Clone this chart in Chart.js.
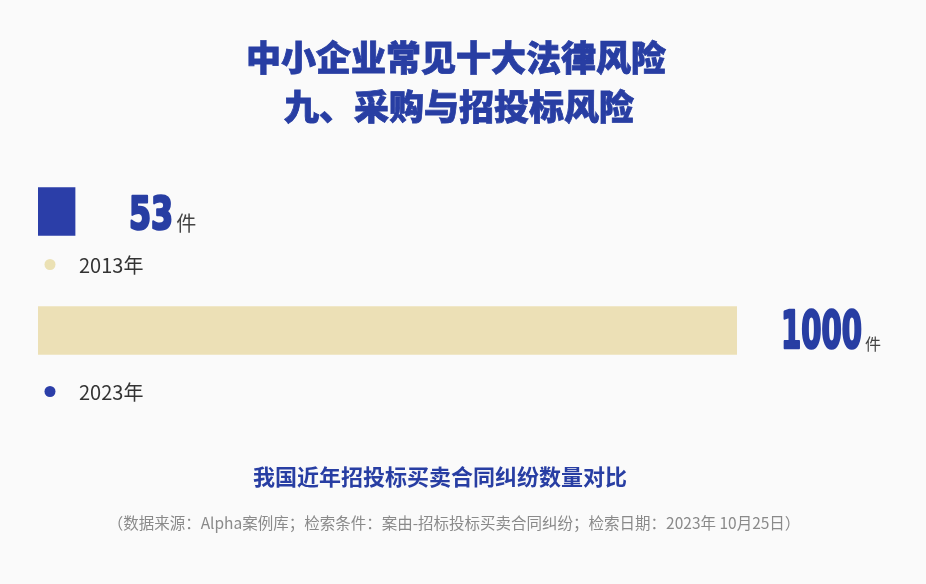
<!DOCTYPE html>
<html><head><meta charset="utf-8">
<script src="https://cdn.jsdelivr.net/npm/chart.js@4.4.0/dist/chart.umd.min.js"></script>
<style>
html,body{margin:0;padding:0;background:#fafafa;}
#wrap{position:relative;width:926px;height:584px;}
canvas{display:block;}
</style></head>
<body><div id="wrap"><canvas id="c" width="926" height="584"></canvas></div>
<script>
const categories = ['2013年', '2023年'];
const values = [53, 1000];
const unitLabel = '件';
const titleLines = ['中小企业常见十大法律风险', '九、采购与招投标风险'];
const subtitle = '我国近年招投标买卖合同纠纷数量对比';
const sourceNote = '（数据来源：Alpha案例库；检索条件：案由-招标投标买卖合同纠纷；检索日期：2023年 10月25日）';
const barColors = ['#2b3ea8', '#ece0b6'];
const dotColors = ['#ebe1b4', '#2b3ea8'];

const textPlugin = {
  id: 'textPlugin',
  afterDatasetsDraw(chart) {
    const ctx = chart.ctx;
    const meta = chart.getDatasetMeta(0);
    ctx.save();
    // titles
    ctx.fillStyle = '#283ea3';
    ctx.strokeStyle = '#283ea3';
    ctx.lineWidth = 0.8;
    ctx.textAlign = 'center';
    ctx.textBaseline = 'middle';
    ctx.font = '900 35px "Noto Sans CJK SC"';
    ctx.fillText(titleLines[0], 456, 58);
    ctx.strokeText(titleLines[0], 456, 58);
    ctx.fillText(titleLines[1], 459, 107);
    ctx.strokeText(titleLines[1], 459, 107);
    ctx.font = 'bold 22px "Noto Sans CJK SC"';
    ctx.fillText(subtitle, 440, 477);
    ctx.fillStyle = '#8a8a8a';
    ctx.font = '15.5px "Noto Sans CJK SC"';
    ctx.fillText(sourceNote, 454, 523);

    // value labels
    const numCfg = [{dx: 54, size: 44, sx: 0.72, unitSize: 20}, {dx: 44, size: 51, sx: 0.57, unitSize: 16}];
    meta.data.forEach((bar, i) => {
      const cfg = numCfg[i];
      const txt = String(values[i]);
      ctx.textAlign = 'left';
      ctx.textBaseline = 'alphabetic';
      ctx.font = 'bold ' + cfg.size + 'px "DejaVu Sans"';
      const baseY = bar.y + 17;
      const x0 = bar.x + cfg.dx;
      ctx.save();
      ctx.translate(x0, baseY);
      ctx.scale(cfg.sx, 1);
      ctx.fillStyle = '#283ea3';
      ctx.lineWidth = 2.6;
      ctx.lineJoin = 'round';
      ctx.strokeStyle = '#283ea3';
      ctx.fillText(txt, 0, 0);
      ctx.strokeText(txt, 0, 0);
      const w = ctx.measureText(txt).width * cfg.sx;
      ctx.restore();
      ctx.fillStyle = '#444';
      ctx.font = cfg.unitSize + 'px "Noto Sans CJK SC"';
      ctx.fillText(unitLabel, x0 + w + 3, baseY + 2);

      // legend-like category label under bar
      const ly = bar.y + 53 + (i === 1 ? 8 : 0);
      ctx.beginPath();
      ctx.arc(50, ly, 5.5, 0, Math.PI * 2);
      ctx.fillStyle = dotColors[i];
      ctx.fill();
      ctx.fillStyle = '#333';
      ctx.font = '20px "Noto Sans CJK SC"';
      ctx.textBaseline = 'middle';
      ctx.fillText(categories[i], 79, ly + 1);
    });
    ctx.restore();
  }
};

new Chart(document.getElementById('c'), {
  type: 'bar',
  data: {
    labels: categories,
    datasets: [{
      data: values,
      backgroundColor: barColors,
      borderWidth: 0,
      barThickness: 48
    }]
  },
  options: {
    indexAxis: 'y',
    responsive: false,
    animation: false,
    layout: {padding: {left: 38, right: 189, top: 152, bottom: 194}},
    plugins: {legend: {display: false}, tooltip: {enabled: false}, title: {display: false}},
    scales: {
      x: {display: false, min: 0, max: 1000},
      y: {display: false}
    }
  },
  plugins: [textPlugin]
});
</script></body></html>
